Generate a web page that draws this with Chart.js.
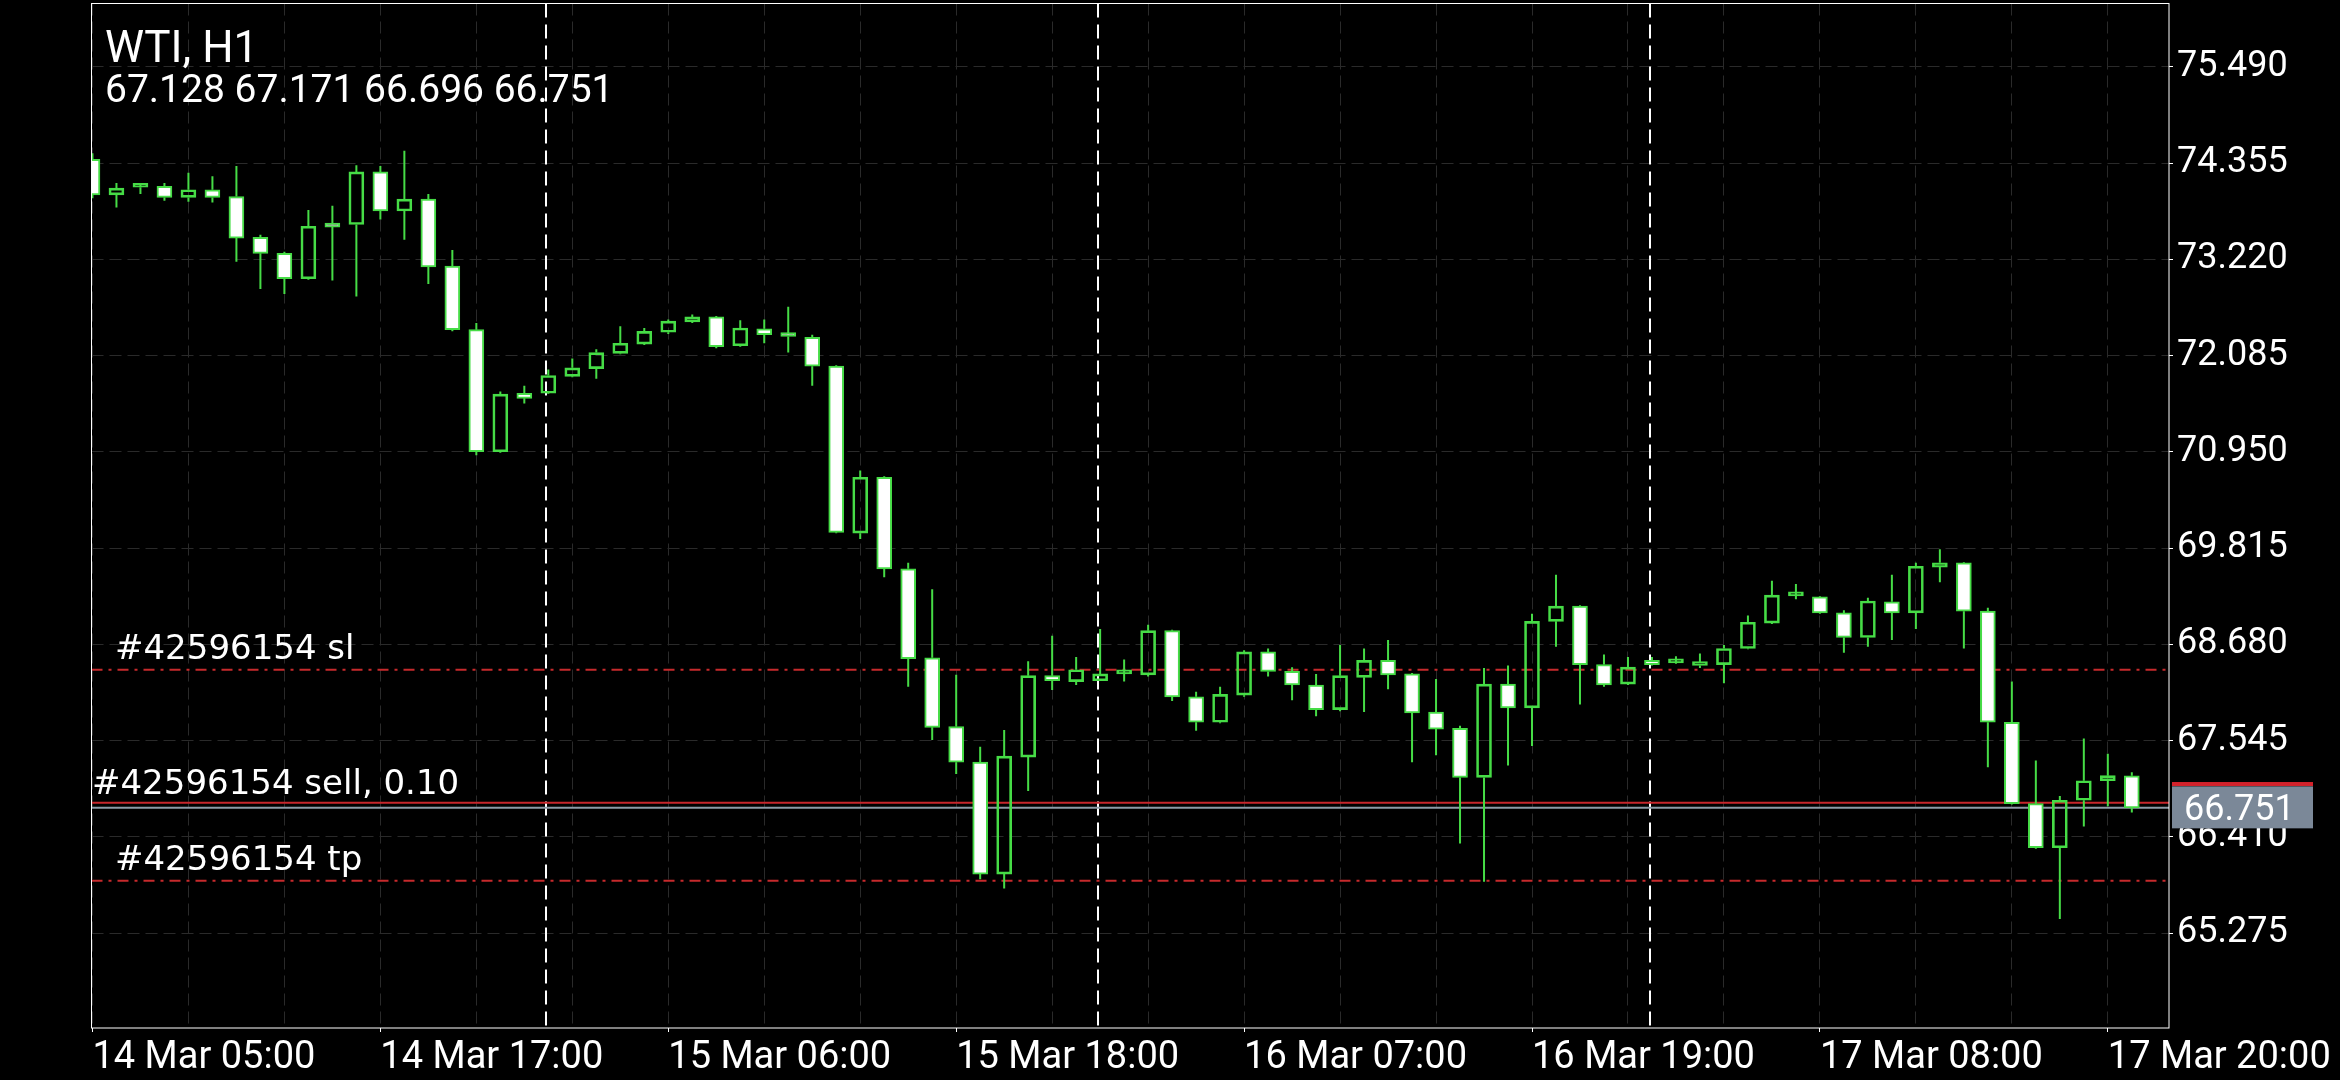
<!DOCTYPE html>
<html lang="en">

<head>
    <meta charset="UTF-8">
    <meta name="viewport" content="width=device-width, initial-scale=1.0">
    <title>WTI, H1</title>
    <style>
        html, body { margin: 0; padding: 0; background: #000; }
        #wrap { width: 2340px; height: 1080px; }
    </style>
</head>

<body>
    <div id="wrap">
        <canvas id="mychart" width="2340" height="1080"></canvas>
    </div>

    <script src="https://cdn.jsdelivr.net/npm/chart.js@4.4.1/dist/chart.umd.min.js"></script>
    <script>
        // H1 candles, 14 Mar 05:00 -> 17 Mar 21:00
        var opens = [74.40, 73.98, 74.07, 74.08, 73.95, 74.04, 73.96, 73.48, 73.29, 72.99,
            73.63, 73.63, 74.25, 73.79, 73.93, 73.14, 72.39, 70.95, 71.64, 71.64,
            71.84, 71.93, 72.11, 72.22, 72.36, 72.48, 72.54, 72.20, 72.40, 72.33,
            72.30, 71.96, 69.99, 70.65, 69.57, 68.52, 67.71, 67.29, 65.97, 67.35,
            68.31, 68.24, 68.25, 68.33, 68.32, 68.84, 68.06, 67.76, 68.08, 68.59,
            68.36, 68.20, 67.91, 68.29, 68.49, 68.33, 67.88, 67.69, 67.11, 68.21,
            67.93, 68.95, 69.13, 68.44, 68.21, 68.49, 68.46, 68.43, 68.44, 68.63,
            68.93, 69.25, 69.24, 69.05, 68.76, 69.18, 69.05, 69.59, 69.64, 69.07,
            67.76, 66.80, 66.28, 66.84, 67.07, 67.128];
        var highs = [74.47, 74.12, 74.12, 74.12, 74.24, 74.20, 74.32, 73.51, 73.31, 73.80,
            73.85, 74.33, 74.32, 74.50, 73.99, 73.33, 72.47, 71.66, 71.73, 71.92,
            72.05, 72.16, 72.43, 72.41, 72.51, 72.57, 72.55, 72.50, 72.51, 72.66,
            72.33, 71.97, 70.73, 70.66, 69.64, 69.33, 68.32, 67.47, 67.67, 68.48,
            68.78, 68.53, 68.86, 68.50, 68.91, 68.85, 68.12, 68.18, 68.61, 68.63,
            68.41, 68.33, 68.67, 68.63, 68.73, 68.34, 68.27, 67.72, 68.40, 68.43,
            69.04, 69.50, 69.14, 68.56, 68.53, 68.53, 68.54, 68.57, 68.67, 69.02,
            69.43, 69.39, 69.25, 69.08, 69.23, 69.50, 69.64, 69.80, 69.65, 69.11,
            68.24, 67.31, 66.89, 67.57, 67.39, 67.171];
        var lows = [73.94, 73.83, 73.99, 73.91, 73.90, 73.89, 73.19, 72.87, 72.81, 72.98,
            72.97, 72.78, 73.69, 73.45, 72.93, 72.37, 70.91, 70.94, 71.52, 71.63,
            71.83, 71.81, 72.10, 72.21, 72.34, 72.47, 72.17, 72.19, 72.23, 72.12,
            71.73, 69.99, 69.92, 69.47, 68.18, 67.55, 67.15, 65.91, 65.80, 66.95,
            68.14, 68.20, 68.25, 68.24, 68.30, 68.01, 67.66, 67.75, 68.06, 68.30,
            68.02, 67.83, 67.89, 67.88, 68.15, 67.29, 67.37, 66.33, 65.88, 67.25,
            67.48, 68.65, 67.97, 68.18, 68.20, 68.43, 68.45, 68.40, 68.22, 68.62,
            68.92, 69.21, 69.04, 68.58, 68.65, 68.73, 68.86, 69.41, 68.63, 67.23,
            66.79, 66.27, 65.44, 66.53, 66.77, 66.696];
        var closes = [73.98, 74.06, 74.08, 73.95, 74.04, 73.95, 73.47, 73.29, 72.99, 73.61,
            73.60, 74.25, 73.79, 73.93, 73.13, 72.39, 70.95, 71.63, 71.58, 71.85,
            71.94, 72.12, 72.23, 72.37, 72.49, 72.54, 72.19, 72.41, 72.33, 72.31,
            71.96, 70.00, 70.65, 69.57, 68.51, 67.70, 67.29, 65.97, 67.36, 68.31,
            68.25, 68.38, 68.33, 68.34, 68.84, 68.06, 67.76, 68.09, 68.59, 68.36,
            68.20, 67.91, 68.31, 68.49, 68.32, 67.87, 67.68, 67.11, 68.21, 67.93,
            68.95, 69.13, 68.44, 68.20, 68.41, 68.44, 68.47, 68.47, 68.63, 68.94,
            69.26, 69.26, 69.05, 68.76, 69.19, 69.05, 69.60, 69.64, 69.07, 67.76,
            66.80, 66.28, 66.84, 67.07, 67.13, 66.751];

        // axis labels
        var xLabels = ['14 Mar 05:00', '14 Mar 17:00', '15 Mar 06:00', '15 Mar 18:00',
            '16 Mar 07:00', '16 Mar 19:00', '17 Mar 08:00', '17 Mar 20:00'];
        var xLabelIdx = [0, 12, 24, 36, 48, 60, 72, 84];
        var daySplits = [19, 42, 65];   // first bar of 15, 16, 17 Mar
        var yTicks = [75.490, 74.355, 73.220, 72.085, 70.950, 69.815, 68.680, 67.545, 66.410, 65.275];

        // order / price levels
        var ticket = '42596154';
        var lots = '0.10';
        var slPrice = 68.379;
        var tpPrice = 65.89;
        var sellPrice = 66.812;
        var bidPrice = 66.751;
        var askPrice = 67.032;

        var green = '#46dc46';
        var gridCol = '#2a2a2a';

        var idx = opens.map(function (v, i) { return i; });
        var gridIdx = [];
        for (var g = 0; g <= 84; g += 4) gridIdx.push(g);

        var bodyData = idx.map(function (i) { return { x: i, y: [opens[i], closes[i]] }; });
        var upperWick = idx.map(function (i) { return { x: i, y: [Math.max(opens[i], closes[i]), highs[i]] }; });
        var lowerWick = idx.map(function (i) { return { x: i, y: [lows[i], Math.min(opens[i], closes[i])] }; });
        // bearish = white body, bullish = hollow
        var bodyFill = idx.map(function (i) { return closes[i] < opens[i] ? '#ffffff' : 'rgba(0,0,0,0)'; });

        function hline(ctx, a, py) {
            ctx.beginPath();
            ctx.moveTo(a.left, py);
            ctx.lineTo(a.right, py);
            ctx.stroke();
        }

        var overlay = {
            id: 'overlay',
            beforeDatasetsDraw: function (chart) {
                var ctx = chart.ctx, a = chart.chartArea, x = chart.scales.x, y = chart.scales.y;
                ctx.save();
                ctx.beginPath();
                ctx.rect(a.left, a.top, a.right - a.left, a.bottom - a.top);
                ctx.clip();

                // day separators
                ctx.strokeStyle = '#ffffff';
                ctx.lineWidth = 2;
                ctx.setLineDash([14, 7]);
                daySplits.forEach(function (d) {
                    var px = Math.round(x.getPixelForValue(d - 0.1));
                    ctx.beginPath();
                    ctx.moveTo(px, a.top);
                    ctx.lineTo(px, a.bottom);
                    ctx.stroke();
                });

                // sl / tp
                ctx.strokeStyle = '#c62a2c';
                ctx.setLineDash([11, 6, 3, 6]);
                hline(ctx, a, y.getPixelForValue(slPrice));
                hline(ctx, a, y.getPixelForValue(tpPrice));

                // open price + bid
                ctx.setLineDash([]);
                ctx.strokeStyle = '#c8262b';
                hline(ctx, a, y.getPixelForValue(sellPrice));
                ctx.strokeStyle = '#8e9aa6';
                hline(ctx, a, y.getPixelForValue(bidPrice));
                ctx.restore();
            },
            afterDraw: function (chart) {
                var ctx = chart.ctx, a = chart.chartArea, y = chart.scales.y;
                ctx.save();
                ctx.fillStyle = '#ffffff';
                ctx.textAlign = 'left';
                ctx.textBaseline = 'alphabetic';

                ctx.font = '44px Roboto';
                ctx.fillText('WTI, H1', 105, 62);
                var last = opens.length - 1;
                ctx.font = '39px Roboto';
                ctx.fillText([opens[last], highs[last], lows[last], closes[last]].map(function (v) { return v.toFixed(3); }).join(' '), 105, 102);

                ctx.font = '34px "DejaVu Sans"';
                ctx.fillText('#' + ticket + ' sl', 115, y.getPixelForValue(slPrice) - 11);
                ctx.fillText('#' + ticket + ' sell, ' + lots, 92, y.getPixelForValue(sellPrice) - 9);
                ctx.fillText('#' + ticket + ' tp', 115, y.getPixelForValue(tpPrice) - 11);

                // frame
                ctx.strokeStyle = '#ffffff';
                ctx.lineWidth = 1;
                ctx.strokeRect(a.left, a.top, a.right - a.left, a.bottom - a.top);

                // current price box
                var by = y.getPixelForValue(bidPrice);
                var ay = y.getPixelForValue(askPrice);
                ctx.fillStyle = '#7b8898';
                ctx.fillRect(a.right + 3, by - 21.5, 141, 42);
                ctx.fillStyle = '#d3222b';
                ctx.fillRect(a.right + 3, ay - 2, 141, 4);
                ctx.fillStyle = '#ffffff';
                ctx.font = '36px Roboto';
                ctx.fillText(bidPrice.toFixed(3), a.right + 15, by + 12.5);
                ctx.restore();
            }
        };

        const ctx = document.getElementById('mychart');

        var mychart = new Chart(ctx, {
            type: 'bar',
            data: {
                datasets: [{
                    label: 'body',
                    data: bodyData,
                    backgroundColor: bodyFill,
                    borderColor: green,
                    borderWidth: 2,
                    borderSkipped: false,
                    barThickness: 15,
                    minBarLength: 4,
                    grouped: false
                }, {
                    label: 'upper wick',
                    data: upperWick,
                    backgroundColor: green,
                    borderWidth: 0,
                    barThickness: 2,
                    inflateAmount: 0,
                    grouped: false
                }, {
                    label: 'lower wick',
                    data: lowerWick,
                    backgroundColor: green,
                    borderWidth: 0,
                    barThickness: 2,
                    inflateAmount: 0,
                    grouped: false
                }]
            },
            options: {
                responsive: false,
                animation: false,
                layout: { padding: { left: 91.5, top: 3.5, right: 0, bottom: 0 } },
                plugins: {
                    legend: { display: false },
                    tooltip: { enabled: false }
                },
                scales: {
                    x: {
                        type: 'linear',
                        offset: false,
                        min: -0.04,
                        max: 86.55,
                        afterBuildTicks: function (s) {
                            s.ticks = gridIdx.map(function (v) { return { value: v }; });
                        },
                        afterFit: function (s) {
                            s.height = 52;
                            s.paddingLeft = 0;
                            s.paddingRight = 0;
                        },
                        grid: {
                            offset: false,
                            color: gridCol,
                            tickLength: 4,
                            tickColor: function (c) {
                                return (c.tick && xLabelIdx.indexOf(c.tick.value) >= 0) ? '#ffffff' : 'rgba(0,0,0,0)';
                            }
                        },
                        border: { display: false, dash: [12, 6] },
                        ticks: {
                            autoSkip: false,
                            maxRotation: 0,
                            align: 'start',
                            padding: 4,
                            color: '#ffffff',
                            font: { family: 'Roboto', size: 38 },
                            callback: function (v) {
                                var k = xLabelIdx.indexOf(v);
                                return k < 0 ? '' : xLabels[k];
                            }
                        }
                    },
                    y: {
                        position: 'right',
                        min: 64.1547,
                        max: 76.2365,
                        afterBuildTicks: function (s) {
                            s.ticks = yTicks.map(function (v) { return { value: v }; });
                        },
                        afterFit: function (s) {
                            s.width = 171;
                            s.paddingTop = 0;
                            s.paddingBottom = 0;
                        },
                        grid: { color: gridCol, tickLength: 4, tickColor: '#ffffff' },
                        border: { display: false, dash: [12, 6] },
                        ticks: {
                            padding: 4,
                            color: '#ffffff',
                            font: { family: 'Roboto', size: 36 },
                            callback: function (v) { return v.toFixed(3); }
                        }
                    }
                }
            },
            plugins: [overlay]
        });
    </script>
</body>

</html>
